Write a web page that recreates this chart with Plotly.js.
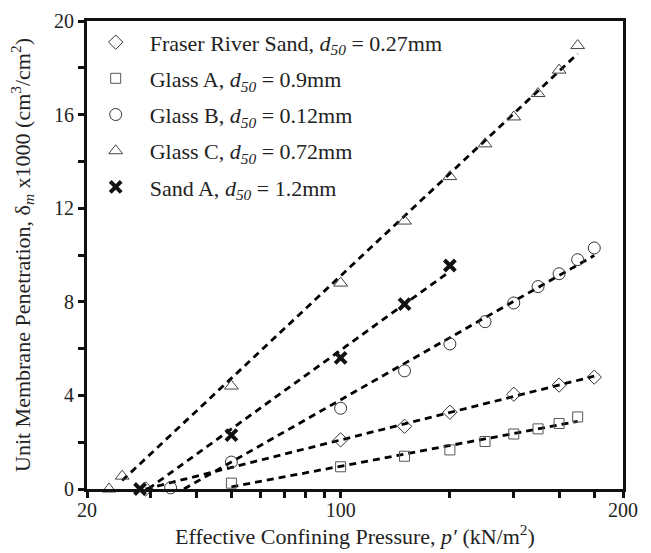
<!DOCTYPE html>
<html>
<head>
<meta charset="utf-8">
<script src="https://cdn.plot.ly/plotly-3.0.1.min.js"></script>
<style>
  html, body { margin: 0; padding: 0; background: #fff; }
  #chart { width: 651px; height: 553px; }
</style>
</head>
<body>
<div id="chart"></div>
<script>
// ---- data ----
const fraserX = [29, 100, 150, 200, 300, 400, 500];
const fraserY = [0, 2.1, 2.68, 3.28, 4.05, 4.44, 4.78];
const glassAX = [50, 100, 150, 200, 250, 300, 350, 400, 450];
const glassAY = [0.25, 0.95, 1.4, 1.67, 2.03, 2.35, 2.57, 2.8, 3.08];
const glassBX = [34, 50, 100, 150, 200, 250, 300, 350, 400, 450, 500];
const glassBY = [0.05, 1.15, 3.45, 5.05, 6.2, 7.15, 7.95, 8.65, 9.2, 9.8, 10.3];
const glassCX = [23, 25, 50, 100, 150, 200, 250, 300, 350, 400, 450];
const glassCY = [0, 0.55, 4.4, 8.8, 11.45, 13.35, 14.75, 15.9, 16.9, 17.9, 18.95];
const sandAX = [28, 50, 100, 150, 200];
const sandAY = [0, 2.3, 5.6, 7.9, 9.55];

// dashed trend lines (end points)
const fraserFitX = [29, 500];  const fraserFitY = [0, 4.82];
const glassAFitX = [50, 450];  const glassAFitY = [0.09, 2.89];
const glassBFitX = [37, 500];  const glassBFitY = [0, 9.98];
const glassCFitX = [25, 450];  const glassCFitY = [0.36, 18.6];
const sandAFitX = [29.5, 200]; const sandAFitY = [0, 9.3];

const seriesNames = [
  'Fraser River Sand, <i>d<sub>50</sub></i> = 0.27mm',
  'Glass A, <i>d<sub>50</sub></i> = 0.9mm',
  'Glass B, <i>d<sub>50</sub></i> = 0.12mm',
  'Glass C, <i>d<sub>50</sub></i> = 0.72mm',
  'Sand A, <i>d<sub>50</sub></i> = 1.2mm'
];

const xTickVals = [20, 100, 600];
const xTickText = ['20', '100', '200'];
const xMinorVals = [30, 40, 50, 60, 70, 80, 90, 200, 300, 400, 500];
const yTickVals = [0, 4, 8, 12, 16, 20];

const FONT = 'Liberation Serif, Times New Roman, serif';
const dashStyle = '7px,5px';

function fit(x, y, g) {
  return { x: x, y: y, mode: 'lines', type: 'scatter', showlegend: false, legendgroup: g,
           line: { color: '#000', width: 2.8, dash: dashStyle }, hoverinfo: 'skip' };
}
function pts(x, y, name, symbol, size, color, g, lw) {
  return { x: x, y: y, name: name, mode: 'markers', type: 'scatter', legendgroup: g, cliponaxis: false,
           marker: { symbol: symbol, size: size, color: color, line: { color: color, width: lw } } };
}

const traces = [
  fit(fraserFitX, fraserFitY, 'g1'),
  fit(glassAFitX, glassAFitY, 'g2'),
  fit(glassBFitX, glassBFitY, 'g3'),
  fit(glassCFitX, glassCFitY, 'g4'),
  fit(sandAFitX, sandAFitY, 'g5'),
  pts(fraserX, fraserY, seriesNames[0], 'diamond-open', 11, '#333', 'g1', 1),
  pts(glassAX, glassAY, seriesNames[1], 'square-open', 10, '#555', 'g2', 1),
  pts(glassBX, glassBY, seriesNames[2], 'circle-open', 12, '#333', 'g3', 1),
  pts(glassCX, glassCY, seriesNames[3], 'triangle-up-open', 12, '#444', 'g4', 1),
  pts(sandAX, sandAY, seriesNames[4], 'x-thin-open', 11, '#111', 'g5', 4)
];

const layout = {
  width: 651, height: 553,
  margin: { l: 87, r: 28, t: 21, b: 64 },
  paper_bgcolor: '#fff', plot_bgcolor: '#fff',
  font: { family: FONT, color: '#222', size: 20 },
  showlegend: true,
  legend: {
    x: -0.0099, y: 0.9993, xanchor: 'left', yanchor: 'top',
    bgcolor: 'rgba(0,0,0,0)', borderwidth: 0,
    font: { family: FONT, size: 22, color: '#222' },
    itemwidth: 58,
    traceorder: 'grouped', tracegroupgap: 4.6
  },
  xaxis: {
    type: 'log',
    range: [Math.log10(20), Math.log10(600)],
    tickmode: 'array', tickvals: xTickVals, ticktext: xTickText,
    ticks: 'outside', ticklen: 6, tickwidth: 3, tickcolor: '#111',
    ticklabelstandoff: -5,
    minor: { tickmode: 'array', tickvals: xMinorVals, ticks: 'outside', ticklen: 6, tickwidth: 3, tickcolor: '#111', showgrid: false },
    showline: true, linewidth: 3, linecolor: '#111', mirror: true,
    showgrid: false, zeroline: false,
    tickfont: { family: FONT, size: 20, color: '#222' },
    title: { text: 'Effective Confining Pressure, <i>p′</i> (kN/m<sup>2</sup>)',
             font: { family: FONT, size: 22, color: '#222' }, standoff: 8 }
  },
  yaxis: {
    range: [0, 20],
    tickmode: 'array', tickvals: yTickVals,
    ticks: 'outside', ticklen: 6, tickwidth: 3, tickcolor: '#111',
    minor: { dtick: 2, ticks: 'outside', ticklen: 6, tickwidth: 3, tickcolor: '#111', showgrid: false },
    showline: true, linewidth: 3, linecolor: '#111', mirror: true,
    showgrid: false, zeroline: false,
    tickfont: { family: FONT, size: 20, color: '#222' },
    title: { text: 'Unit Membrane Penetration, δ<sub><i>m</i></sub> x1000 (cm<sup>3</sup>/cm<sup>2</sup>)',
             font: { family: FONT, size: 22, color: '#222' }, standoff: 18 }
  }
};

Plotly.newPlot('chart', traces, layout, { displayModeBar: false, staticPlot: true });
</script>
</body>
</html>
